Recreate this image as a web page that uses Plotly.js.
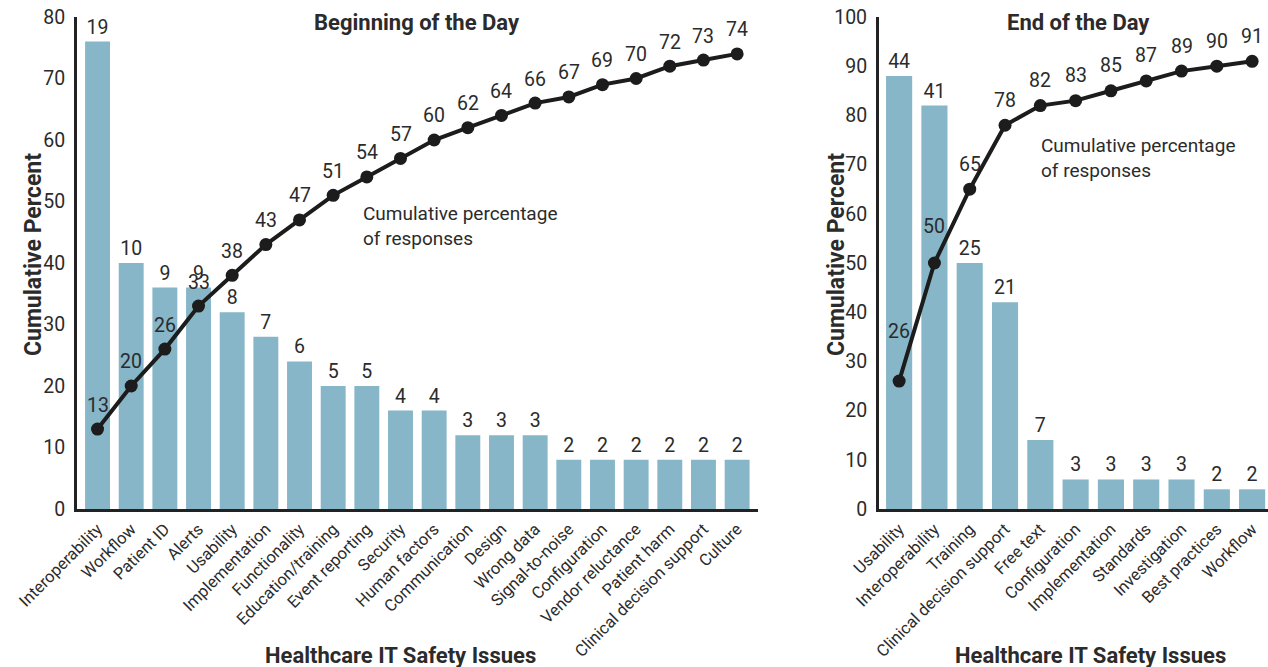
<!DOCTYPE html>
<html>
<head>
<meta charset="utf-8">
<script src="https://cdn.plot.ly/plotly-3.0.1.min.js"></script>
<style>html,body{margin:0;padding:0;background:#fff;}#chart{width:1268px;height:667px;}</style>
</head>
<body>
<div id="chart"></div>
<script>
// ---------- Beginning of the Day ----------
const beginCategories = ["Interoperability","Workflow","Patient ID","Alerts","Usability","Implementation","Functionality","Education/training","Event reporting","Security","Human factors","Communication","Design","Wrong data","Signal-to-noise","Configuration","Vendor reluctance","Patient harm","Clinical decision support","Culture"];
const beginCounts = [19,10,9,9,8,7,6,5,5,4,4,3,3,3,2,2,2,2,2,2];
const beginBarHeights = [76,40,36,36,32,28,24,20,20,16,16,12,12,12,8,8,8,8,8,8];
const beginCumulative = [13,20,26,33,38,43,47,51,54,57,60,62,64,66,67,69,70,72,73,74];

// ---------- End of the Day ----------
const endCategories = ["Usability","Interoperability","Training","Clinical decision support","Free text","Configuration","Implementation","Standards","Investigation","Best practices","Workflow"];
const endCounts = [44,41,25,21,7,3,3,3,3,2,2];
const endBarHeights = [88,82,50,42,14,6,6,6,6,4,4];
const endCumulative = [26,50,65,78,82,83,85,87,89,90,91];

const W = 1268, H = 667;
const BAR = '#86b6c8', INK = '#1c1c1c', TXT = '#2b2b2b';
const FONT = 'Roboto, "Liberation Sans", Arial, sans-serif';
const px = v => v / W, py = v => 1 - v / H;

const traces = [
  {type:'bar', x:beginCategories, y:beginBarHeights, text:beginCounts.map(String), textposition:'outside',
   textfont:{size:19.5,color:TXT,family:FONT}, marker:{color:BAR}, cliponaxis:false, xaxis:'x', yaxis:'y', hoverinfo:'none'},
  {type:'scatter', mode:'lines+markers', x:beginCategories, y:beginCumulative,
   line:{color:INK,width:4}, marker:{color:INK,size:13}, cliponaxis:false, xaxis:'x', yaxis:'y', hoverinfo:'none'},
  {type:'bar', x:endCategories, y:endBarHeights, text:endCounts.map(String), textposition:'outside',
   textfont:{size:19.5,color:TXT,family:FONT}, marker:{color:BAR}, cliponaxis:false, xaxis:'x2', yaxis:'y2', hoverinfo:'none'},
  {type:'scatter', mode:'lines+markers', x:endCategories, y:endCumulative,
   line:{color:INK,width:4}, marker:{color:INK,size:13}, cliponaxis:false, xaxis:'x2', yaxis:'y2', hoverinfo:'none'}
];

const annotations = [];
// cumulative value labels
const endShift = [50,36,25,25,25,25,25,25,25,25,25];
beginCategories.forEach((c,i)=>annotations.push({xref:'x',yref:'y',x:c,y:beginCumulative[i],text:String(beginCumulative[i]),
  showarrow:false,yshift:24,font:{size:19.5,color:TXT,family:FONT}}));
endCategories.forEach((c,i)=>annotations.push({xref:'x2',yref:'y2',x:c,y:endCumulative[i],text:String(endCumulative[i]),
  showarrow:false,yshift:endShift[i],font:{size:19.5,color:TXT,family:FONT}}));

// titles and axis titles
const bold = s => '<b>'+s+'</b>';
annotations.push(
  {xref:'paper',yref:'paper',x:px(417),y:py(23),text:bold('Beginning of the Day'),showarrow:false,xanchor:'center',yanchor:'middle',font:{size:22,color:TXT,family:FONT}},
  {xref:'paper',yref:'paper',x:px(1078),y:py(23),text:bold('End of the Day'),showarrow:false,xanchor:'center',yanchor:'middle',font:{size:22,color:TXT,family:FONT}},
  {xref:'paper',yref:'paper',x:px(401),y:py(655),text:bold('Healthcare IT Safety Issues'),showarrow:false,xanchor:'center',yanchor:'middle',font:{size:22,color:TXT,family:FONT}},
  {xref:'paper',yref:'paper',x:px(1090),y:py(655),text:bold('Healthcare IT Safety Issues'),showarrow:false,xanchor:'center',yanchor:'middle',font:{size:22,color:TXT,family:FONT}},
  {xref:'paper',yref:'paper',x:px(33),y:py(255),text:bold('Cumulative Percent'),textangle:-90,showarrow:false,xanchor:'center',yanchor:'middle',font:{size:23,color:TXT,family:FONT}},
  {xref:'paper',yref:'paper',x:px(836),y:py(255),text:bold('Cumulative Percent'),textangle:-90,showarrow:false,xanchor:'center',yanchor:'middle',font:{size:23,color:TXT,family:FONT}},
  {xref:'paper',yref:'paper',x:px(361),y:py(226),text:'Cumulative percentage<br>of responses',align:'left',showarrow:false,xanchor:'left',yanchor:'middle',font:{size:19,color:TXT,family:FONT}},
  {xref:'paper',yref:'paper',x:px(1039),y:py(158),text:'Cumulative percentage<br>of responses',align:'left',showarrow:false,xanchor:'left',yanchor:'middle',font:{size:19,color:TXT,family:FONT}}
);

const xCommon = {type:'category', showgrid:false, zeroline:false, showline:true, linecolor:'#222', linewidth:3,
  ticks:'', tickangle:-45, tickfont:{size:16.5,color:TXT,family:FONT}, automargin:false, fixedrange:true, ticklabelstandoff:1};
const yCommon = {showgrid:false, zeroline:false, showline:true, linecolor:'#222', linewidth:3, ticks:'',
  tickfont:{size:19.5,color:TXT,family:FONT}, automargin:false, fixedrange:true, ticklabelstandoff:5};

const layout = {
  width:W, height:H, margin:{l:0,r:0,t:0,b:0}, paper_bgcolor:'#fff', plot_bgcolor:'#fff',
  showlegend:false, bargap:0.26, font:{family:FONT,color:TXT},
  xaxis:Object.assign({}, xCommon, {domain:[px(77),px(758)], range:[-0.61,19.62], anchor:'y'}),
  yaxis:Object.assign({}, yCommon, {domain:[1-509/H,1-17/H], range:[0,80], dtick:10, anchor:'x'}),
  xaxis2:Object.assign({}, xCommon, {domain:[px(879),1], range:[-0.57,10.45], anchor:'y2'}),
  yaxis2:Object.assign({}, yCommon, {domain:[1-509/H,1-17/H], range:[0,100], dtick:10, anchor:'x2'}),
  annotations:annotations
};

Plotly.newPlot('chart', traces, layout, {staticPlot:true, displayModeBar:false});
</script>
</body>
</html>
